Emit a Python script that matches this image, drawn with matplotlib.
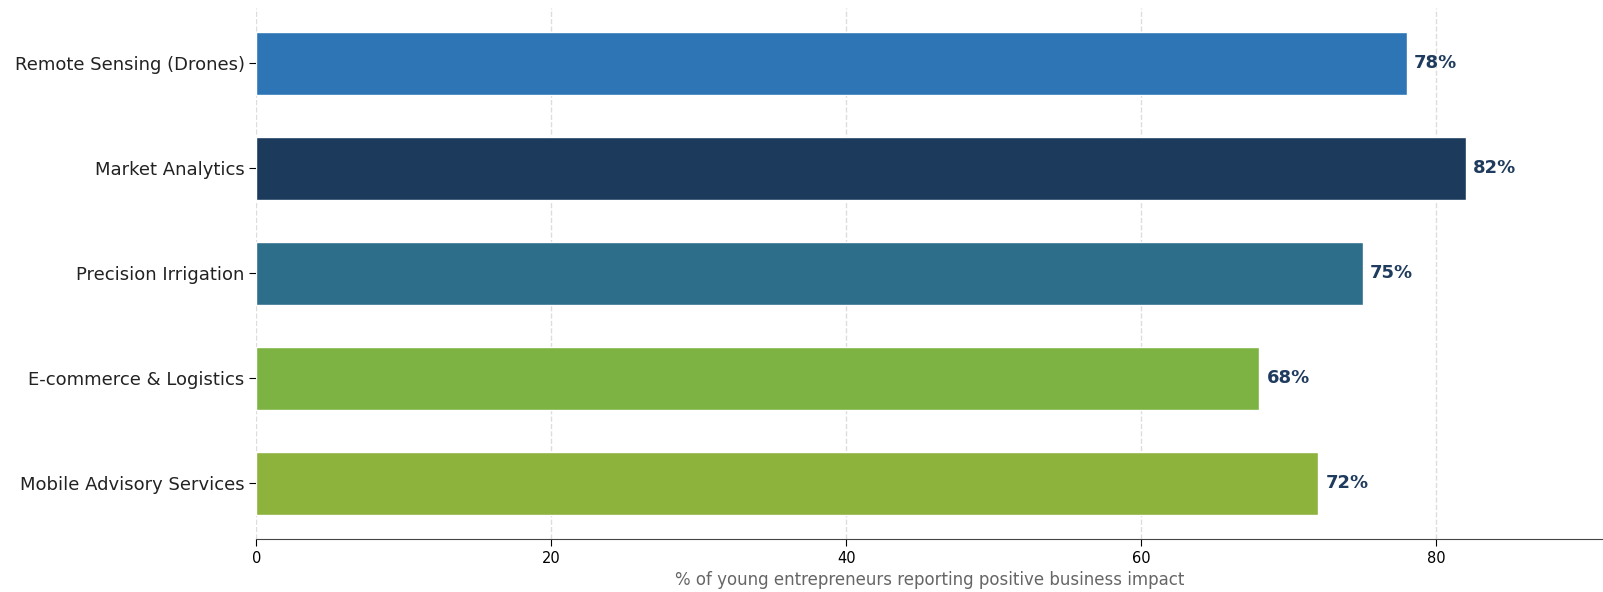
import numpy as np
import matplotlib.pyplot as plt

plt.rcParams['font.family'] = ['DejaVu Sans']

categories = ['Remote Sensing (Drones)', 'Market Analytics', 'Precision Irrigation',
              'E-commerce & Logistics', 'Mobile Advisory Services']
values = [78, 82, 75, 68, 72]
colors = ['#2E75B6', '#1B3A5C', '#2D6E8A', '#7CB342', '#8DB33D']

fig = plt.figure(figsize=(16.03, 5.92), dpi=100)
ax = fig.add_axes([0.16, 0.0895, 0.84, 0.8975])

y = np.arange(len(categories))
bars = ax.barh(y, values, height=0.6, color=colors, edgecolor='white', linewidth=1)
ax.invert_yaxis()
ax.set_yticks(y)
ax.set_yticklabels(categories, fontsize=13, color='#222222')
ax.set_xlim(0, 91.3)

for b, v in zip(bars, values):
    ax.text(b.get_width() + 0.5, b.get_y() + b.get_height() / 2, f'{v}%',
            va='center', ha='left', fontsize=13, fontweight='bold', color='#1F3B5E')

ax.set_xlabel('% of young entrepreneurs reporting positive business impact',
              fontsize=12, color='#666666', labelpad=4)
ax.tick_params(axis='x', labelsize=10.5, length=5)
ax.tick_params(axis='y', length=5)
ax.xaxis.grid(True, linestyle='--', color='#dddddd', linewidth=1)
ax.set_axisbelow(True)
for s in ['top', 'right', 'left']:
    ax.spines[s].set_visible(False)
ax.spines['bottom'].set_color('#444444')

fig.savefig('out.png', dpi=100)
